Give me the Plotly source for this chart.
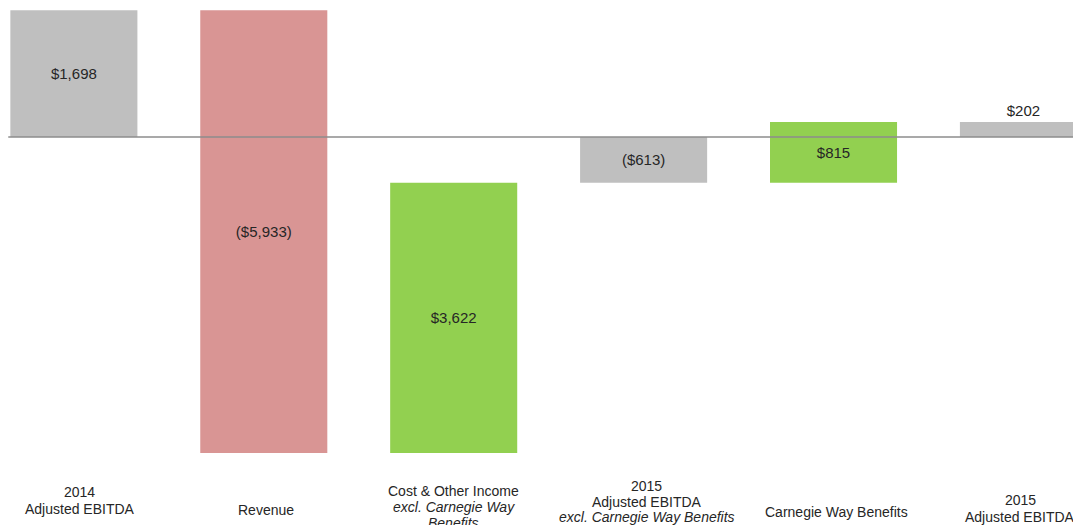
import plotly.graph_objects as go

# Bridge from 2014 to 2015 Adjusted EBITDA ($ millions)
categories = [
    "2014 Adjusted EBITDA",
    "Revenue",
    "Cost & Other Income excl. Carnegie Way Benefits",
    "2015 Adjusted EBITDA excl. Carnegie Way Benefits",
    "Carnegie Way Benefits",
    "2015 Adjusted EBITDA",
]
values = [1698, -5933, 3622, -613, 815, 202]
measures = ["absolute", "relative", "relative", "total", "relative", "total"]

# Axis label lines for each category (italic lines marked with <i>)
label_lines = [
    ["2014", "Adjusted EBITDA"],
    ["Revenue"],
    ["Cost & Other Income", "<i>excl. Carnegie Way</i>", "<i>Benefits</i>"],
    ["2015", "Adjusted EBITDA", "<i>excl. Carnegie Way Benefits</i>"],
    ["Carnegie Way Benefits"],
    ["2015", "Adjusted EBITDA"],
]


def money(v):
    s = "${:,.0f}".format(abs(v))
    return "({})".format(s) if v < 0 else s


GRAY = "#BFBFBF"
RED = "#D99594"
GREEN = "#92D050"
TEXT = "#262626"
FONT = "Liberation Sans, Arial, sans-serif"

fig = go.Figure(
    go.Waterfall(
        x=categories,
        y=values,
        measure=measures,
        text=[money(v) for v in values],
        textposition=["inside", "inside", "inside", "inside", "inside", "outside"],
        insidetextanchor="middle",
        textfont=dict(family=FONT, size=15, color=TEXT),
        insidetextfont=dict(family=FONT, size=15, color=TEXT),
        outsidetextfont=dict(family=FONT, size=15, color=TEXT),
        constraintext="none",
        cliponaxis=False,
        increasing=dict(marker=dict(color=GREEN)),
        decreasing=dict(marker=dict(color=RED)),
        totals=dict(marker=dict(color=GRAY)),
        connector=dict(visible=False),
        hoverinfo="skip",
    )
)

# Category labels below the plot, one annotation per line
PLOT_BOTTOM = 470
first_line_px = [492, 510, 491, 486, 512, 500]
line_step = [17, 0, 16, 15.5, 0, 16.7]
x_offsets = [6, 2, 0, 3, 3, -3]
for i, lines in enumerate(label_lines):
    for j, line in enumerate(lines):
        y_px = first_line_px[i] + j * line_step[i]
        fig.add_annotation(
            x=categories[i], xref="x",
            y=0, yref="paper",
            yanchor="middle",
            yshift=-(y_px - PLOT_BOTTOM),
            xshift=x_offsets[i],
            text=line,
            showarrow=False,
            font=dict(family=FONT, size=14, color=TEXT),
        )

# Zero baseline drawn over the bars
fig.add_shape(
    type="line", xref="paper", yref="y",
    x0=0.0077, x1=1, y0=0, y1=0,
    line=dict(color="#8C8C8C", width=1.5),
    layer="above",
)

fig.update_layout(
    width=1073,
    height=525,
    margin=dict(l=0, r=0, t=0, b=55),
    paper_bgcolor="white",
    plot_bgcolor="white",
    showlegend=False,
    waterfallgap=0.331,
    xaxis=dict(
        range=[-0.389, 5.261],
        showticklabels=False,
        showgrid=False,
        zeroline=False,
        showline=False,
        ticks="",
    ),
    yaxis=dict(
        range=[-4463, 1836],
        showticklabels=False,
        showgrid=False,
        zeroline=False,
        showline=False,
        ticks="",
    ),
)

fig.write_html("out.html")
